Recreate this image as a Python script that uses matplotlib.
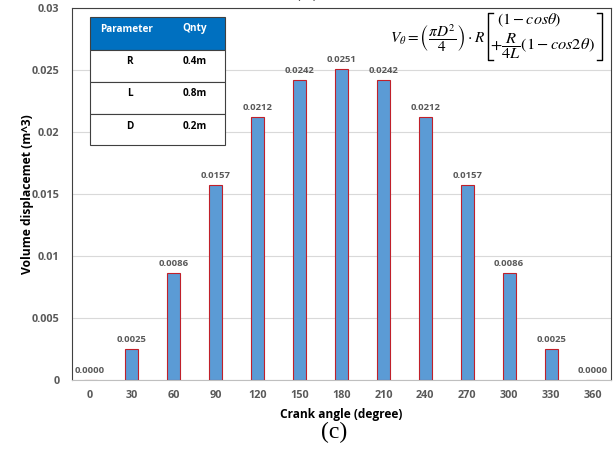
import matplotlib
matplotlib.use("Agg")
import matplotlib.pyplot as plt
from matplotlib.patches import Rectangle
from matplotlib.lines import Line2D

# data
angles = [0, 30, 60, 90, 120, 150, 180, 210, 240, 270, 300, 330, 360]
volume = [0.0, 0.0025, 0.0086, 0.0157, 0.0212, 0.0242, 0.0251,
          0.0242, 0.0212, 0.0157, 0.0086, 0.0025, 0.0]
yticks = [0, 0.005, 0.01, 0.015, 0.02, 0.025, 0.03]
ytick_labels = ["0", "0.005", "0.01", "0.015", "0.02", "0.025", "0.03"]
param_names = ["R", "L", "D"]
param_vals = ["0.4m", "0.8m", "0.2m"]

plt.rcParams['font.family'] = ['Open Sans', 'DejaVu Sans']
plt.rcParams['mathtext.fontset'] = 'stix'
gray = "#595959"

fig = plt.figure(figsize=(6.14, 4.59), dpi=100)
ax = fig.add_axes([72/614, 1-380/459, 539/614, 372/459])

x = list(range(len(angles)))
ax.bar(x, volume, width=0.31, color="#5B9BD5", edgecolor="#C0202A",
       linewidth=0.8, zorder=3)
for xi, v in zip(x, volume):
    ax.text(xi, v + 0.0004, "%.4f" % v, ha="center", va="bottom",
            fontsize=6.8, fontweight="bold", color=gray)

ax.set_xlim(-0.43, len(angles) - 0.57)
ax.set_ylim(0, 0.03)
ax.set_xticks(x)
ax.set_xticklabels([str(a) for a in angles], fontsize=7.8,
                   fontweight="bold", color=gray)
ax.set_yticks(yticks)
ax.set_yticklabels(ytick_labels, fontsize=7.8, fontweight="bold", color=gray)
ax.tick_params(axis="x", length=0, pad=7)
ax.tick_params(axis="y", length=0, pad=9)
ax.grid(axis="y", color="#D9D9D9", linewidth=0.8, zorder=0)
for s in ["left", "top", "right"]:
    ax.spines[s].set_color("#404040")
    ax.spines[s].set_linewidth(0.8)
ax.spines["bottom"].set_color("#BFBFBF")

ax.set_xlabel("Crank angle (degree)", fontsize=8.6, fontweight="bold",
              labelpad=5)
ax.set_ylabel("Volume displacemet (m^3)", fontsize=8.7, fontweight="bold")
ax.yaxis.set_label_coords(-(72-34)/539, 0.5)

# parameter table (axes fraction)
tx0, tx1 = (90-72)/539, (225-72)/539
def ay(py):
    return (380 - py) / 372
rows_px = [17, 50, 82, 114, 145]
ax.add_patch(Rectangle((tx0, ay(rows_px[1])), tx1-tx0, ay(17)-ay(50),
                       transform=ax.transAxes, facecolor="#0070C0",
                       edgecolor="#404040", linewidth=0.8, zorder=5))
for i in range(3):
    ax.add_patch(Rectangle((tx0, ay(rows_px[i+2])), tx1-tx0,
                           ay(rows_px[i+1])-ay(rows_px[i+2]),
                           transform=ax.transAxes, facecolor="white",
                           edgecolor="#404040", linewidth=0.8, zorder=5))
c1, c2 = (127-72)/539, (195-72)/539
ax.text(c1, ay(29), "Parameter", transform=ax.transAxes, ha="center",
        va="center", fontsize=7.2, fontweight="bold", color="white", zorder=6)
ax.text(c2, ay(29), "Qnty", transform=ax.transAxes, ha="center",
        va="center", fontsize=7.2, fontweight="bold", color="white", zorder=6)
for i, (n, v) in enumerate(zip(param_names, param_vals)):
    yc = ay(rows_px[i+1] + 12)
    ax.text(c1 + 0.005, yc, n, transform=ax.transAxes, ha="center",
            va="center", fontsize=7.2, fontweight="bold", zorder=6)
    ax.text(c2, yc, v, transform=ax.transAxes, ha="center",
            va="center", fontsize=7.2, fontweight="bold", zorder=6)

# formula
def fx(px):
    return px / 614
def fy(py):
    return 1 - py / 459
fig.text(fx(485), fy(38), r"$V_\theta=\left(\dfrac{\pi D^2}{4}\right)\cdot R$",
         ha="right", va="center", fontsize=11)
fig.text(fx(497), fy(20), r"$(1-cos\theta)$", ha="left", va="center",
         fontsize=11.5)
fig.text(fx(490), fy(46), r"$+\dfrac{R}{4L}(1-cos2\theta)$", ha="left",
         va="center", fontsize=11.8)
for xs, ys in [([493, 488, 488, 493], [13, 13, 60, 60]),
               ([597, 602, 602, 597], [13, 13, 60, 60])]:
    fig.add_artist(Line2D([fx(v) for v in xs], [fy(v) for v in ys],
                          color="black", linewidth=1.0))

fig.text(fx(334), fy(432), "(c)", ha="center", va="center", fontsize=17,
         family=["Liberation Serif", "DejaVu Serif"])
fig.text(fx(307), fy(-4), "(b)", ha="center", va="baseline", fontsize=17,
         family=["Liberation Serif", "DejaVu Serif"])

fig.savefig("out.png", dpi=100)
